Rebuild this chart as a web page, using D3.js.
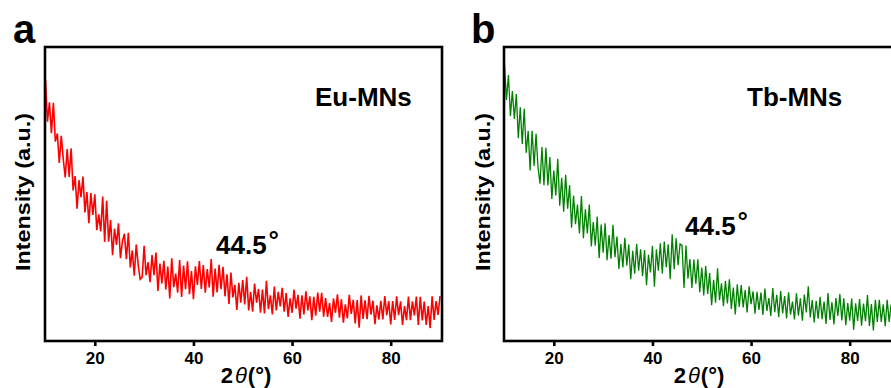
<!DOCTYPE html>
<html>
<head>
<meta charset="utf-8">
<script src="https://cdn.jsdelivr.net/npm/d3@7"></script>
<style>
  body { margin: 0; background: #fff; }
  svg { display: block; font-family: "Liberation Sans", Arial, sans-serif; font-weight: bold; }
</style>
</head>
<body>
<div id="chart"></div>
<script>
// scan grid: 2-theta from 10 to 90 deg, 0.4 deg step
const thetaStart = 10;
const thetaStep = 0.4;
const xTicks = [20, 40, 60, 80];

// Eu-MNs intensity (a.u., 0 = bottom of frame, 100 = top)
const euIntensity = [
  88.8, 74.6, 81.2, 70.7, 81, 67.8, 70.6, 60.6, 69.8, 61.9,
  55.6, 65.3, 55.8, 65.5, 51.2, 56.1, 45, 54.7, 48.9, 55.9,
  43.7, 50.7, 40.1, 50.3, 42.9, 49.9, 37.7, 43.1, 37.3, 49.1,
  33.7, 47.7, 33.8, 41.1, 29.2, 38.2, 32.7, 40, 28.2, 33.9,
  36.5, 27.8, 36.8, 25, 30.8, 22.2, 32.8, 25.9, 21, 21.7,
  32.4, 22.4, 26.8, 20, 29.2, 22.4, 30.1, 17, 26.3, 19.6,
  27.3, 17.5, 25.3, 14.5, 28.1, 18.3, 22.9, 16.4, 27.5, 15,
  25.7, 17.6, 27.1, 15.9, 23.8, 14.2, 25.4, 19.1, 27.2, 17.7,
  25.8, 16.4, 24.5, 18.2, 27.9, 15.1, 24.6, 16.5, 25.9, 17.6,
  25.2, 15.2, 22.7, 12.6, 23.3, 14.8, 19.1, 10.6, 19.8, 13,
  20.7, 12.4, 21.8, 10.4, 16.6, 10, 19.5, 13, 17.7, 9.6,
  17.5, 9.4, 20.5, 10.8, 15.5, 9, 18.5, 10.4, 16.7, 11.8,
  18.1, 10, 16.3, 8.2, 14.5, 9.6, 17.5, 11, 15.7, 7.6,
  15.5, 9, 16.9, 10.4, 15.2, 7.1, 15, 8.6, 16.5, 10,
  16.4, 8.3, 14.6, 8.2, 12.9, 6.5, 14.4, 9.6, 15.9, 7.9,
  14.2, 6.2, 12.5, 7.7, 15.7, 9.2, 14, 6, 13.9, 4.5,
  15.5, 7.5, 13.8, 7.4, 15.4, 9, 13.7, 5.7, 12.1, 7.3,
  13.7, 7.3, 15.3, 8.8, 13.6, 5.6, 13.6, 7.2, 15.2, 8.8,
  13.5, 5.5, 11.9, 7.1, 15.1, 7.1, 13.5, 8.7, 15.1, 5.5,
  15, 7, 13.4, 5.5, 11.9, 4.4, 15.2, 7.2, 13.6, 8.9, 15.3
];

// Tb-MNs intensity
const tbIntensity = [
  94, 82, 90.5, 76.5, 85, 75.5, 84, 69, 79.5, 67,
  79, 64, 71.5, 58, 71.5, 59.5, 70.5, 59, 53.5, 66,
  53, 65.7, 52.9, 62.6, 48.3, 58, 49.5, 62, 46, 55.5,
  44, 56.5, 45, 53, 38.5, 49.5, 39.7, 46.4, 36.6, 49.3,
  35, 44.8, 36.6, 46.4, 32.2, 40.5, 32.4, 42.3, 28.2, 39.6,
  30, 40, 27.5, 36, 28, 39.5, 28.5, 35.5, 24.5, 33,
  25, 35.1, 25.7, 32.8, 21, 30.7, 22.9, 33.1, 23.9, 31.2,
  22, 30.9, 19, 29.3, 23.3, 32.4, 18.5, 31.2, 23.9, 33.2,
  23, 33.8, 25.1, 32.9, 21, 36.3, 24.4, 34.9, 25.8, 33,
  32.5, 18, 32.5, 21.2, 27.9, 18, 27.7, 19.5, 27.8, 16.6,
  25, 15.5, 25.5, 16, 23.1, 12.2, 20.8, 13, 24.7, 13.9,
  19.6, 11.8, 20.5, 12.8, 21, 10.9, 18.2, 9, 19.3, 11.6,
  19, 11.4, 17.3, 9.7, 18.6, 12.5, 16.9, 9.3, 16.7, 10.6,
  16.5, 8.9, 17.8, 10.2, 14.6, 8.5, 18, 9.8, 15.7, 8.1,
  17, 9.4, 15.3, 7.7, 16.6, 9, 13.4, 7.3, 16.2, 8.6,
  14.5, 6.9, 15.8, 9.7, 18.6, 8, 13.9, 6.3, 13.7, 7.6,
  15, 7.4, 13.4, 5.8, 16.3, 7.2, 13.2, 5.6, 14.6, 8.5,
  16, 7, 14.5, 5.4, 12.9, 6.9, 14.4, 3.8, 12.8, 6.8,
  14.3, 5.2, 12.7, 6.7, 15.6, 5.1, 12.6, 3.6, 14, 6.5,
  14, 6.5, 12.5, 5, 14, 6.5, 12.5, 5, 14, 6.5, 12.5
];

const panels = [
  { id: 'a', name: 'Eu-MNs', values: euIntensity, color: '#ff0000', width: 1.6, left: 45,
    nameX: 315, nameY: 106, peakX: 216, peakY: 254, titleX: 246, yLabelX: 30, letterX: 13 },
  { id: 'b', name: 'Tb-MNs', values: tbIntensity, color: '#008000', width: 1.3, left: 504,
    nameX: 747, nameY: 106, peakX: 685, peakY: 235, titleX: 699, yLabelX: 490, letterX: 471 }
];

const W = 891, H = 388;
const frameW = 397, frameTop = 47, frameBottom = 341;

const svg = d3.select('#chart').append('svg')
  .attr('width', W)
  .attr('height', H);

panels.forEach((p, k) => {
  const x = d3.scaleLinear().domain([9.9, 90.4]).range([p.left, p.left + frameW]);
  const y = d3.scaleLinear().domain([0, 100]).range([frameBottom, frameTop]);

  const data = p.values.map((v, i) => ({ t: thetaStart + i * thetaStep, v: v }));

  svg.append('clipPath')
    .attr('id', 'clip' + k)
    .append('rect')
    .attr('x', p.left)
    .attr('y', frameTop)
    .attr('width', frameW)
    .attr('height', frameBottom - frameTop);

  const line = d3.line()
    .x((d) => x(d.t))
    .y((d) => y(d.v));

  svg.append('path')
    .datum(data)
    .attr('clip-path', `url(#clip${k})`)
    .attr('fill', 'none')
    .attr('stroke', p.color)
    .attr('stroke-width', p.width)
    .attr('d', line);

  // frame
  svg.append('rect')
    .attr('x', p.left)
    .attr('y', frameTop)
    .attr('width', frameW)
    .attr('height', frameBottom - frameTop)
    .attr('fill', 'none')
    .attr('stroke', '#000')
    .attr('stroke-width', 2.6);

  const ax = svg.append('g')
    .attr('transform', `translate(0, ${frameBottom})`)
    .call(d3.axisBottom(x).tickValues(xTicks).tickSize(5).tickSizeOuter(0).tickPadding(6));
  ax.select('.domain').remove();
  ax.selectAll('.tick line').attr('stroke', '#000').attr('stroke-width', 2.6);
  ax.selectAll('.tick text')
    .attr('fill', '#000')
    .style('font-size', '17px')
    .style('font-weight', 'bold')
    .style('font-family', '"Liberation Sans", Arial, sans-serif');

  // x title: 2θ(°)
  const xt = svg.append('text')
    .attr('x', p.titleX)
    .attr('y', 383)
    .attr('text-anchor', 'middle')
    .style('font-size', '22px');
  xt.append('tspan').text('2');
  xt.append('tspan').attr('dx', 2).style('font-style', 'italic').style('font-weight', 'normal').text('θ');
  xt.append('tspan').attr('dx', 1).text('(°)');

  svg.append('text')
    .attr('transform', `translate(${p.yLabelX}, 192) rotate(-90)`)
    .attr('text-anchor', 'middle')
    .attr('textLength', 158)
    .attr('lengthAdjust', 'spacingAndGlyphs')
    .style('font-size', '21px')
    .text('Intensity (a.u.)');

  svg.append('text')
    .attr('x', p.letterX)
    .attr('y', 43)
    .style('font-size', '40px')
    .text(p.id);

  svg.append('text')
    .attr('x', p.nameX)
    .attr('y', p.nameY)
    .style('font-size', '26px')
    .text(p.name);

  const pk = svg.append('text')
    .attr('x', p.peakX)
    .attr('y', p.peakY)
    .style('font-size', '26px');
  pk.append('tspan').text('44.5');
  pk.append('tspan').attr('dx', 2).attr('dy', -5).text('°');
});
</script>
</body>
</html>
